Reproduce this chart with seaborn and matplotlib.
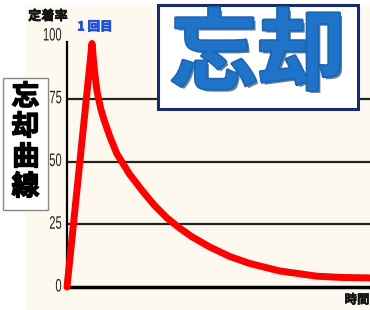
"""
Forgetting curve (忘却曲線) recreation
"""
import matplotlib
matplotlib.use('Agg')
import matplotlib.pyplot as plt
import matplotlib.patheffects as pe
from matplotlib.patches import Rectangle
from matplotlib.transforms import Affine2D
import seaborn as sns

# data
time_pts = [0, 1.0, 1.1, 1.2, 1.35, 1.5, 1.75, 2.0, 2.5, 3.0, 3.5, 4.0, 4.5, 5.0,
            5.7, 6.5, 7.3, 8.5, 10.0, 11.0, 12.2]
retention = [0, 97, 86, 78, 71, 66, 59, 53, 45, 38.5, 32.5, 27.5, 23.5, 20,
             16, 12.2, 9.4, 6.4, 4.3, 3.8, 3.6]
y_ticks = [0, 25, 50, 75, 100]
grid_levels = [25, 50, 75]


class SqueezeX(pe.AbstractPathEffect):
    """narrow the glyphs horizontally around a fixed x (display px)"""
    def __init__(self, sx, x0):
        super().__init__()
        self.sx, self.x0 = sx, x0

    def draw_path(self, renderer, gc, tpath, affine, rgbFace=None):
        t = affine + Affine2D().translate(-self.x0, 0).scale(self.sx, 1).translate(self.x0, 0)
        renderer.draw_path(gc, tpath, t, rgbFace)


sns.set_style('white')
plt.rcParams['font.family'] = ['Noto Sans CJK JP', 'DejaVu Sans']

W, H = 370, 310
fig = plt.figure(figsize=(W / 100, H / 100), dpi=100, facecolor='white')

# cream backdrop
fig.patches.append(Rectangle((25 / W, 0), 1, (H - 5) / H, transform=fig.transFigure,
                             facecolor='#fdf9ef', edgecolor='none', zorder=-10))

# 0 -> y=287px, 100 -> y=36px
ax = fig.add_axes([67 / W, 23 / H, (W - 67) / W, (287 - 36) / H])
ax.set_facecolor('none')
ax.set_xlim(0, (W - 67) / 25)
ax.set_ylim(0, 100)

for lv in grid_levels:
    ax.axhline(lv, color='#222222', lw=1.6, zorder=1)

sns.lineplot(x=time_pts, y=retention, ax=ax, color='#ff0000', lw=5.0,
             solid_joinstyle='round', solid_capstyle='round', zorder=3)
for l in ax.lines:
    l.set_clip_on(False)

for s in ['top', 'right']:
    ax.spines[s].set_visible(False)
ax.spines['left'].set_linewidth(1.6)
ax.spines['left'].set_color('black')
ax.spines['left'].set_bounds(0, 97.5)
ax.spines['bottom'].set_linewidth(2.5)
ax.spines['bottom'].set_color('black')
ax.spines['bottom'].set_bounds(0, (368 - 67) / 25)

ax.set_yticks([])
ax.set_xticks([])
ax.set_xlabel('')
ax.set_ylabel('')

# condensed tick labels
sq = SqueezeX(0.62, 62)
for t in y_ticks:
    ax.text(-5.5 / (W - 67), t, str(t), transform=ax.get_yaxis_transform(),
            ha='right', va='center', fontsize=13, family=['Liberation Sans', 'DejaVu Sans'],
            color='#222222', path_effects=[sq])

bold = [pe.withStroke(linewidth=0.4, foreground='#111111')]

# labels
fig.text(48 / W, 1 - 16 / H, '定着率', ha='center', va='center', fontsize=9.5,
         fontweight='bold', color='#111111', path_effects=bold)
fig.text(95 / W, 1 - 27 / H, '1 回目', ha='center', va='center', fontsize=9,
         fontweight='bold', color='#1f4fd6',
         path_effects=[pe.withStroke(linewidth=0.6, foreground='#1f4fd6')])
fig.text(357 / W, 1 - 300 / H, '時間', ha='center', va='center', fontsize=9,
         fontweight='bold', color='#111111', path_effects=bold)

# title box
fig.patches.append(Rectangle((158 / W, 1 - 109 / H), 200 / W, 104 / H, transform=fig.transFigure,
                             facecolor='white', edgecolor='#1b2a6b', lw=2.2, zorder=5))
fig.text(258 / W, 1 - 57 / H, '忘却', ha='center', va='center', fontsize=63,
         fontweight='bold', color='#1f73c8', zorder=6,
         path_effects=[pe.withSimplePatchShadow(offset=(2, -2), shadow_rgbFace='#0b2a55', alpha=0.6),
                       pe.withStroke(linewidth=2.5, foreground='#1a66b4')])

# vertical side label
fig.patches.append(Rectangle((3 / W, 1 - 210 / H), 45 / W, 132 / H, transform=fig.transFigure,
                             facecolor='white', edgecolor='#888888', lw=1, zorder=5))
for i, ch in enumerate('忘却曲線'):
    fig.text(25.5 / W, 1 - (97 + 30 * i) / H, ch, ha='center', va='center', fontsize=20,
             fontweight='bold', color='black', zorder=6,
             path_effects=[pe.withStroke(linewidth=1.0, foreground='black')])

plt.savefig('out.png', dpi=100)
